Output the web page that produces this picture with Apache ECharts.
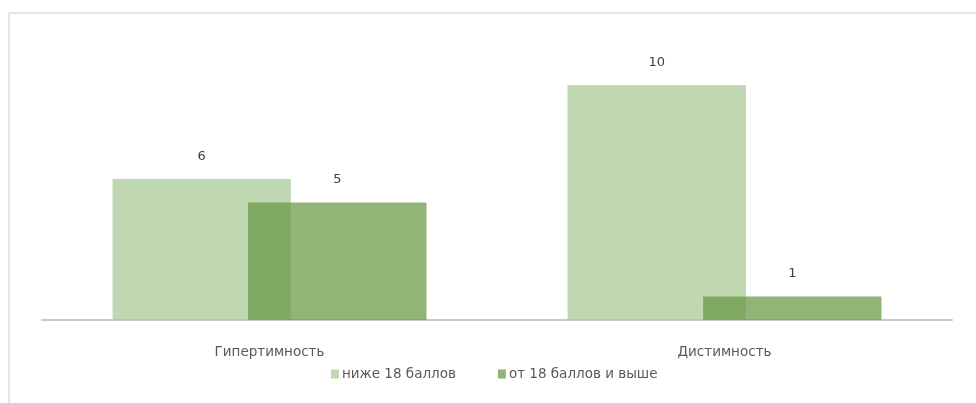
<!DOCTYPE html>
<html>
<head>
<meta charset="utf-8">
<script src="https://cdn.jsdelivr.net/npm/echarts@6/dist/echarts.min.js"></script>
<style>
  html, body { margin: 0; padding: 0; background: #fff; }
  #chart { width: 976px; height: 403px; }
</style>
</head>
<body>
<div id="chart"></div>
<script>
  const categories = ["Гипертимность", "Дистимность"];
  const seriesNames = ["ниже 18 баллов", "от 18 баллов и выше"];
  const below18 = [6, 10];
  const from18 = [5, 1];

  const chart = echarts.init(document.getElementById("chart"));
  const font = "DejaVu Sans";

  chart.setOption({
    animation: false,
    color: ["rgba(170,203,152,0.75)", "rgba(104,151,65,0.72)"],
    textStyle: { fontFamily: font },
    graphic: [
      { type: "line", shape: { x1: 9, y1: 13, x2: 9, y2: 403 }, style: { stroke: "#e4e4e4", lineWidth: 2 } },
      { type: "line", shape: { x1: 9, y1: 13, x2: 976, y2: 13 }, style: { stroke: "#e4e4e4", lineWidth: 2 } }
    ],
    grid: { left: 42, right: 24, top: 38, bottom: 83, containLabel: false },
    legend: {
      bottom: 17,
      left: 326,
      itemWidth: 8,
      itemHeight: 9,
      itemGap: 42,
      icon: "rect",
      textStyle: { fontFamily: font, fontSize: 13.5, color: "#595959", padding: [0, 0, 0, -2] },
      data: seriesNames
    },
    xAxis: {
      type: "category",
      data: categories,
      axisLine: { show: true, lineStyle: { color: "#c8c8c8", width: 2 } },
      axisTick: { show: false },
      axisLabel: { color: "#595959", fontSize: 13.5, margin: 25, fontFamily: font }
    },
    yAxis: {
      type: "value",
      min: 0,
      max: 12,
      show: false,
      splitLine: { show: false }
    },
    series: [
      {
        name: seriesNames[0],
        type: "bar",
        data: below18,
        barGap: "-24%",
        barCategoryGap: "31%",
        label: { show: true, position: "top", distance: 16, color: "#404040", fontSize: 13, fontFamily: font }
      },
      {
        name: seriesNames[1],
        type: "bar",
        data: from18,
        label: { show: true, position: "top", distance: 16, color: "#404040", fontSize: 13, fontFamily: font }
      }
    ]
  });
</script>
</body>
</html>
